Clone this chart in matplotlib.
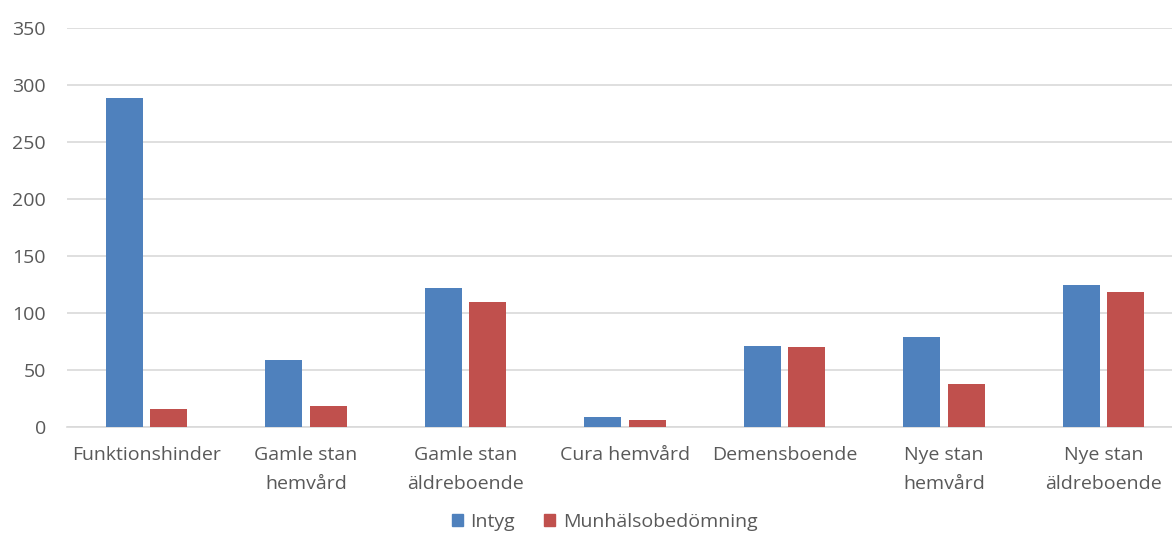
import matplotlib
matplotlib.use("Agg")
import matplotlib.pyplot as plt
import numpy as np
from matplotlib.patches import Patch

categories = ["Funktionshinder", "Gamle stan\nhemvård", "Gamle stan\näldreboende",
              "Cura hemvård", "Demensboende", "Nye stan\nhemvård", "Nye stan\näldreboende"]
intyg = [289, 59, 122, 9, 71, 79, 125]
munhalso = [16, 18, 110, 6, 70, 38, 118]
series_names = ["Intyg", "Munhälsobedömning"]
yticks = [0, 50, 100, 150, 200, 250, 300, 350]

blue = "#4F81BD"
red = "#C0504D"
txt = "#595959"

plt.rcParams['font.family'] = ['Open Sans', 'DejaVu Sans']

W, H = 1172, 535
fig = plt.figure(figsize=(W / 100, H / 100), dpi=100)
left_px, right_px, top_px, bot_px = 66.75, 1183.25, 28, 427
ax = fig.add_axes([left_px / W, 1 - bot_px / H, (right_px - left_px) / W, (bot_px - top_px) / H])

x = np.arange(len(categories))
w = 0.232
gap = 0.05
ax.bar(x - (w + gap) / 2, intyg, width=w, color=blue, zorder=3)
ax.bar(x + (w + gap) / 2, munhalso, width=w, color=red, zorder=3)

ax.set_xlim(-0.5, len(categories) - 0.5)
ax.set_ylim(0, 350)
ax.set_yticks(yticks)
ax.yaxis.grid(True, color="#D9D9D9", linewidth=1.2, zorder=0)
ax.set_axisbelow(True)
for s in ["top", "right", "left"]:
    ax.spines[s].set_visible(False)
ax.spines["bottom"].set_color("#D9D9D9")
ax.spines["bottom"].set_linewidth(1.2)
ax.tick_params(axis="both", length=0, colors=txt, labelsize=14)
ax.tick_params(axis="y", pad=15)
ax.tick_params(axis="x", pad=14)
ax.set_xticks(x)
ax.set_xticklabels(categories, linespacing=1.75)

handles = [Patch(color=blue), Patch(color=red)]
fig.legend(handles, series_names, loc="center", bbox_to_anchor=(0.516, 0.024),
           ncol=2, frameon=False, fontsize=14, labelcolor=txt,
           handlelength=0.55, handleheight=0.55, handletextpad=0.4, columnspacing=1.5,
           borderpad=0.1)

fig.savefig("out.png", dpi=100)
